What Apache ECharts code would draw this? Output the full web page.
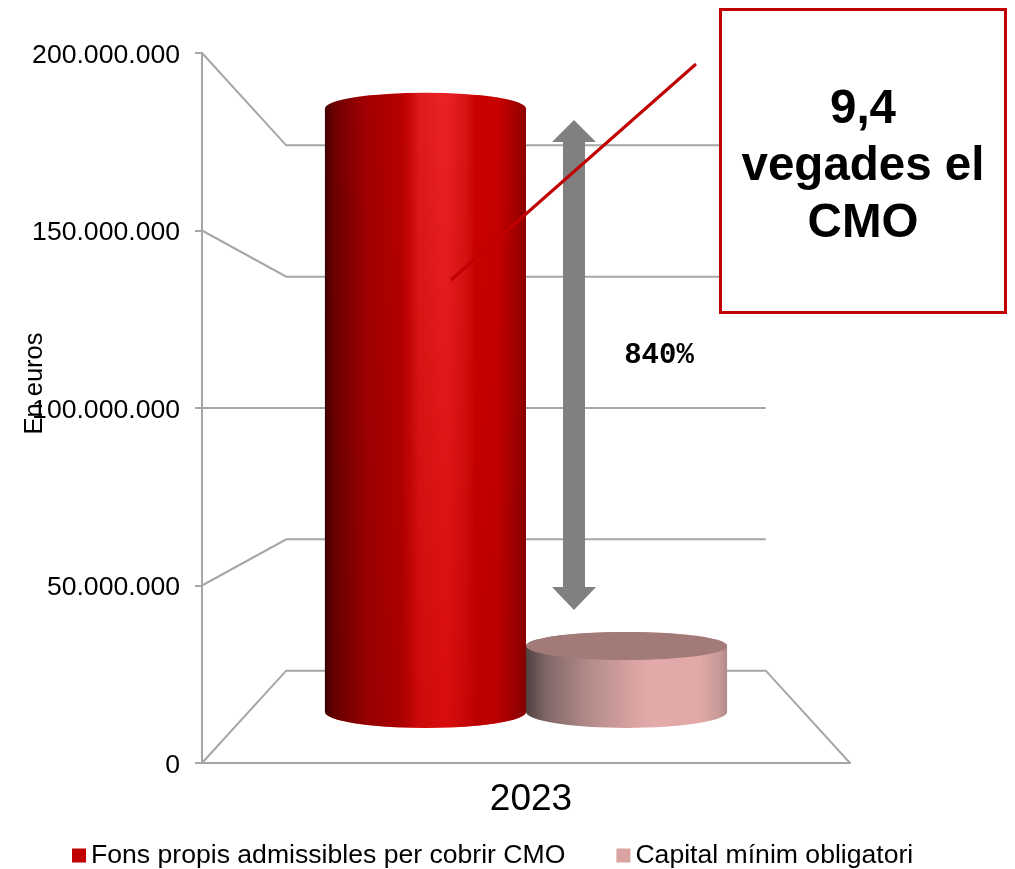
<!DOCTYPE html>
<html>
<head>
<meta charset="utf-8">
<title>Fons propis</title>
<style>
html, body { margin: 0; padding: 0; background: #fff; }
#chart { width: 1015px; height: 869px; }
</style>
<script src="https://cdn.jsdelivr.net/npm/echarts@6/dist/echarts.min.js"></script>
</head>
<body>
<div id="chart"></div>
<script>
const categories = ['2023'];
const fonsPropis = [198500000];
const capitalMinim = [21700000];
const wallTicks = [0, 50000000, 100000000, 150000000, 200000000];
const names = ['Fons propis admissibles per cobrir CMO', 'Capital mínim obligatori'];

const FONT = '"Liberation Sans", Arial, sans-serif';
const GREY = '#a6a6a6';
const RED = '#c00000';
// the fake 3d: everything shrinks towards the middle of the plot
const BACK = 0.74;
const MID = 0.856;
const BAR_SHARE = 0.3125;

const redStops = [
    { offset: 0, color: '#400000' }, { offset: 0.04, color: '#6b0000' },
    { offset: 0.2, color: '#a00000' }, { offset: 0.38, color: '#b80000' },
    { offset: 0.42, color: '#c80808' }, { offset: 0.47, color: '#de1c1c' },
    { offset: 0.6, color: '#ea2226' }, { offset: 0.7, color: '#d81414' },
    { offset: 0.75, color: '#cb0000' }, { offset: 0.86, color: '#c80000' },
    { offset: 1, color: '#900000' }
];
const pinkStops = [
    { offset: 0, color: '#504040' }, { offset: 0.1, color: '#806666' },
    { offset: 0.3, color: '#b08a88' }, { offset: 0.55, color: '#dca5a3' },
    { offset: 0.65, color: '#e3aaaa' }, { offset: 0.87, color: '#e0a8a6' },
    { offset: 0.96, color: '#c89a98' }, { offset: 1, color: '#b08886' }
];

function project(sys, x, y, s) {
    const cx = sys.x + sys.width / 2;
    const cy = sys.y + sys.height / 2;
    return [cx + (x - cx) * s, cy + (y - cy) * s];
}

function renderWall(params, api) {
    const sys = params.coordSys;
    const v = api.value(1);
    const y = api.coord([0, v])[1];
    const left = sys.x;
    const right = sys.x + sys.width;
    const pts = [[left, y], project(sys, left, y, BACK), project(sys, right, y, BACK)];
    if (v === 0) pts.push([right, y]);
    return {
        type: 'polyline',
        shape: { points: pts },
        style: { stroke: GREY, lineWidth: 2, fill: 'none' }
    };
}

function cylinderGeom(side, topRy, params, api) {
    const sys = params.coordSys;
    const c0 = api.coord([api.value(0), 0]);
    const c1 = api.coord([api.value(0), api.value(1)]);
    const rx = sys.width * MID * BAR_SHARE * 0.5 * 1.16;
    const cx = project(sys, c0[0], c0[1], MID)[0] + side * rx;
    const yBot = project(sys, c0[0], c0[1], MID)[1];
    const yTop = project(sys, c1[0], c1[1], MID)[1];
    const ryBot = 16;
    const l = cx - rx;
    const r = cx + rx;
    return {
        cx: cx, rx: rx, yTop: yTop,
        shape: {
            pathData: 'M' + l + ' ' + yTop + ' A' + rx + ' ' + topRy + ' 0 0 1 ' + r + ' ' + yTop +
                ' L' + r + ' ' + yBot + ' A' + rx + ' ' + ryBot + ' 0 0 1 ' + l + ' ' + yBot + ' Z',
            layout: 'cover',
            x: l, y: yTop - topRy, width: 2 * rx, height: yBot - yTop + topRy + ryBot
        }
    };
}

function cylinder(side, stops, topColor) {
    return function (params, api) {
        const g = cylinderGeom(side, topColor ? 14 : 16, params, api);
        const children = [{
            type: 'path',
            shape: g.shape,
            style: { fill: new echarts.graphic.LinearGradient(0, 0, 1, 0, stops) }
        }];
        if (topColor) {
            children.push({
                type: 'ellipse',
                shape: { cx: g.cx, cy: g.yTop, rx: g.rx, ry: 14 },
                style: { fill: topColor }
            });
        }
        return { type: 'group', children: children };
    };
}

// darkens the highlight towards the floor, needs its own series for the blend mode
function cylinderShade(side, color) {
    return function (params, api) {
        const g = cylinderGeom(side, 16, params, api);
        return {
            type: 'path',
            shape: g.shape,
            style: {
                fill: new echarts.graphic.LinearGradient(0, 0, 0, 1, [
                    { offset: 0, color: '#ffffff' },
                    { offset: 1, color: color }
                ])
            }
        };
    };
}

const chart = echarts.init(document.getElementById('chart'), null, { renderer: 'canvas' });
chart.setOption({
    animation: false,
    backgroundColor: '#fff',
    grid: { left: 202, right: 165, top: 53, bottom: 106 },
    legend: {
        data: names,
        left: 67,
        top: 837,
        icon: 'rect',
        itemWidth: 14,
        itemHeight: 14,
        itemGap: 51,
        selectedMode: false,
        textStyle: { fontFamily: FONT, fontSize: 26.6, color: '#000' }
    },
    xAxis: {
        type: 'category',
        data: categories,
        axisLine: { lineStyle: { color: GREY, width: 2 } },
        axisTick: { show: false },
        axisLabel: { fontFamily: FONT, fontSize: 37, color: '#000', margin: 16, padding: [2, 0, 0, 10] }
    },
    yAxis: {
        type: 'value',
        min: 0,
        max: 200000000,
        interval: 50000000,
        axisLine: { show: true, lineStyle: { color: GREY, width: 2 } },
        axisTick: { show: true, length: 7, lineStyle: { color: GREY, width: 2 } },
        splitLine: { show: false },
        axisLabel: {
            fontFamily: FONT,
            fontSize: 26.6,
            color: '#000',
            margin: 22,
            verticalAlign: 'top',
            lineHeight: 5,
            formatter: function (v) { return String(v).replace(/\B(?=(\d{3})+$)/g, '.'); }
        }
    },
    series: [
        {
            name: 'wall',
            type: 'custom',
            silent: true,
            z: 1,
            clip: false,
            renderItem: renderWall,
            data: wallTicks.map(function (v) { return [0, v]; })
        },
        {
            name: names[0],
            type: 'custom',
            silent: true,
            z: 2,
            clip: false,
            itemStyle: { color: RED },
            renderItem: cylinder(-1, redStops, null),
            data: fonsPropis.map(function (v, i) { return [i, v]; })
        },
        {
            name: 'shade',
            type: 'custom',
            silent: true,
            z: 3,
            clip: false,
            blendMode: 'multiply',
            renderItem: cylinderShade(-1, '#eb5a5a'),
            data: fonsPropis.map(function (v, i) { return [i, v]; })
        },
        {
            name: names[1],
            type: 'custom',
            silent: true,
            z: 2,
            clip: false,
            itemStyle: { color: '#d9a3a1' },
            renderItem: cylinder(1, pinkStops, '#a27a78'),
            data: capitalMinim.map(function (v, i) { return [i, v]; })
        }
    ],
    graphic: [
        {
            type: 'text', z: 5, x: 35, y: 383.5, rotation: Math.PI / 2,
            style: { text: 'En euros', font: '25.5px ' + FONT, fill: '#000', align: 'center', verticalAlign: 'middle' }
        },
        {
            type: 'polygon', z: 6,
            shape: { points: [[574, 120], [596, 142], [585, 142], [585, 587], [596, 587], [574, 610], [552, 587], [563, 587], [563, 142], [552, 142]] },
            style: { fill: '#808080' }
        },
        {
            type: 'text', z: 6, x: 659, y: 355.5,
            style: { text: '840%', font: 'bold 29px "Liberation Mono", monospace', fill: '#000', align: 'center', verticalAlign: 'middle' }
        },
        {
            type: 'line', z: 7,
            shape: { x1: 451, y1: 280, x2: 696, y2: 64 },
            style: { stroke: RED, lineWidth: 3 }
        },
        {
            type: 'rect', z: 8,
            shape: { x: 720.5, y: 9.5, width: 285, height: 303 },
            style: { fill: '#fff', stroke: RED, lineWidth: 3 }
        },
        {
            type: 'text', z: 9, x: 863, y: 167,
            style: {
                text: '9,4\nvegades el\nCMO',
                font: 'bold 47.5px ' + FONT,
                lineHeight: 57,
                fill: '#000',
                align: 'center',
                verticalAlign: 'middle'
            }
        }
    ]
});
</script>
</body>
</html>
